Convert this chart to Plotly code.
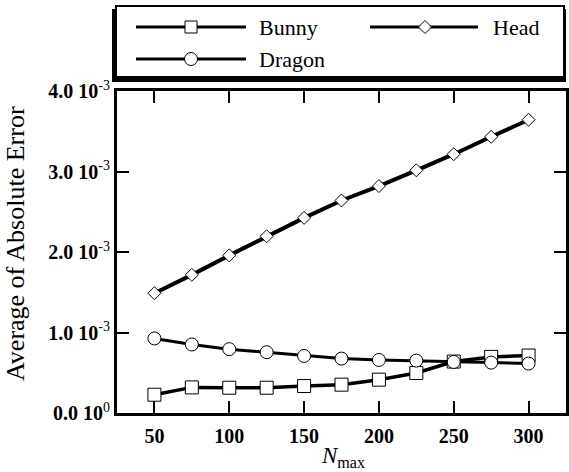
import plotly.graph_objects as go

# ---- data (values in units of 1e-3) ----
n_max = [50, 75, 100, 125, 150, 175, 200, 225, 250, 275, 300]
bunny = [0.227, 0.318, 0.314, 0.314, 0.335, 0.352, 0.414, 0.497, 0.639, 0.697, 0.714]
dragon = [0.926, 0.851, 0.793, 0.755, 0.709, 0.676, 0.659, 0.651, 0.634, 0.626, 0.614]
head = [1.488, 1.716, 1.958, 2.195, 2.424, 2.640, 2.819, 3.015, 3.215, 3.431, 3.643]

x_ticks = [50, 100, 150, 200, 250, 300]
y_ticks = [0.0, 1.0, 2.0, 3.0, 4.0]
y_tick_labels = ["<b>0.0 10</b><sup>0</sup>", "<b>1.0 10</b><sup>-3</sup>",
                 "<b>2.0 10</b><sup>-3</sup>", "<b>3.0 10</b><sup>-3</sup>",
                 "<b>4.0 10</b><sup>-3</sup>"]
series_names = ["Bunny", "Dragon", "Head"]

W, H = 569, 472
L, R, T, B = 117, 3, 91, 59
PW, PH = W - L - R, H - T - B


def px(x):
    return (x - L) / PW


def py(y):
    return (H - B - y) / PH


FONT = "Liberation Serif"

fig = go.Figure()
styles = {
    "Bunny": dict(symbol="square", size=13, width=3.5),
    "Dragon": dict(symbol="circle", size=13, width=3),
    "Head": dict(symbol="diamond", size=10, width=4),
}
for name, vals in zip(series_names, [bunny, dragon, head]):
    st = styles[name]
    fig.add_trace(go.Scatter(
        x=n_max, y=vals, name=name, mode="lines+markers",
        line=dict(color="black", width=st["width"]),
        marker=dict(symbol=st["symbol"], size=st["size"], color="white",
                    line=dict(color="black", width=1)),
        showlegend=False,
    ))

axis_common = dict(
    showline=True, linewidth=3, linecolor="black", mirror="allticks",
    ticks="inside", ticklen=12, tickwidth=2, tickcolor="black",
    showgrid=False, zeroline=False,
)
fig.update_xaxes(range=[25, 325], tickvals=x_ticks,
                 ticktext=[f"<b>{v}</b>" for v in x_ticks],
                 tickfont=dict(family=FONT, size=20, color="black"),
                 ticklabelstandoff=3,
                 **axis_common)
fig.update_yaxes(range=[0, 4.0], tickvals=y_ticks, ticktext=y_tick_labels,
                 tickfont=dict(family=FONT, size=20, color="black"),
                 **axis_common)

shapes = []
annotations = []

# legend box with shadow
shapes.append(dict(type="rect", xref="paper", yref="paper",
                   x0=px(112), x1=px(566), y0=py(82), y1=py(9),
                   fillcolor="black", line=dict(width=0), layer="above"))
shapes.append(dict(type="rect", xref="paper", yref="paper",
                   x0=px(116), x1=px(564), y0=py(77), y1=py(6),
                   fillcolor="white", line=dict(color="black", width=2), layer="above"))

legend_items = [
    ("Bunny", 136, 246, 191, 27, 257),
    ("Dragon", 136, 246, 191, 59, 257),
    ("Head", 370, 478, 425, 27, 491),
]
for name, lx0, lx1, mx, my, tx in legend_items:
    shapes.append(dict(type="line", xref="paper", yref="paper",
                       x0=px(lx0), x1=px(lx1), y0=py(my), y1=py(my),
                       line=dict(color="black", width=3), layer="above"))
    sym = styles[name]["symbol"]
    if sym == "square":
        s = 6
        shapes.append(dict(type="rect", xref="paper", yref="paper",
                           x0=px(mx - s), x1=px(mx + s), y0=py(my + s), y1=py(my - s),
                           fillcolor="white", line=dict(color="black", width=1), layer="above"))
    elif sym == "circle":
        s = 6.5
        shapes.append(dict(type="circle", xref="paper", yref="paper",
                           x0=px(mx - s), x1=px(mx + s), y0=py(my + s), y1=py(my - s),
                           fillcolor="white", line=dict(color="black", width=1), layer="above"))
    else:
        s = 6.5
        path = (f"M {px(mx - s)} {py(my)} L {px(mx)} {py(my - s)} "
                f"L {px(mx + s)} {py(my)} L {px(mx)} {py(my + s)} Z")
        shapes.append(dict(type="path", xref="paper", yref="paper", path=path,
                           fillcolor="white", line=dict(color="black", width=1), layer="above"))
    annotations.append(dict(text=name, xref="paper", yref="paper",
                            x=px(tx), y=py(my), xanchor="left", yanchor="middle",
                            showarrow=False,
                            font=dict(family=FONT, size=22, color="black")))

# axis titles
annotations.append(dict(text="Average of Absolute Error", xref="paper", yref="paper",
                        x=px(16), y=py(244), xanchor="center", yanchor="middle",
                        textangle=-90, showarrow=False,
                        font=dict(family=FONT, size=26, color="black")))
annotations.append(dict(text="<i>N</i><sub>max</sub>", xref="paper", yref="paper",
                        x=px(343), y=py(457), xanchor="center", yanchor="middle",
                        showarrow=False,
                        font=dict(family=FONT, size=23, color="black")))

fig.update_layout(
    width=W, height=H,
    margin=dict(l=L, r=R, t=T, b=B, autoexpand=False),
    plot_bgcolor="white", paper_bgcolor="white",
    shapes=shapes, annotations=annotations,
    showlegend=False,
)

fig.write_html("out.html", config={"displayModeBar": False},
               post_script="document.body.style.margin='0';document.body.style.overflow='hidden';")
